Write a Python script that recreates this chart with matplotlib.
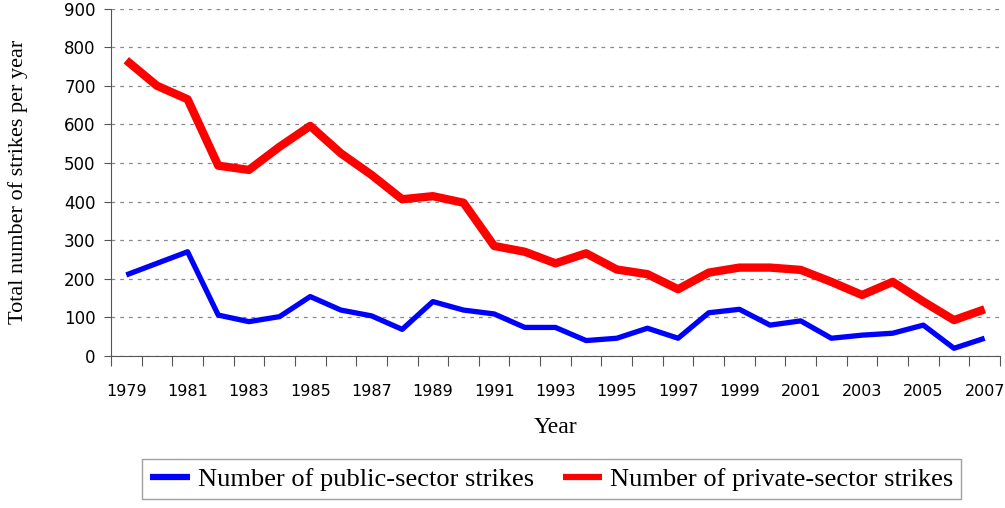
import numpy as np
import matplotlib.pyplot as plt

years = list(range(1979, 2008))
public_strikes = [210, 240, 270, 106, 89, 102, 154, 119, 104, 69, 141, 119, 109, 74, 74,
                  40, 46, 72, 46, 112, 121, 80, 91, 46, 54, 59, 80, 20, 46]
private_strikes = [766, 700, 665, 493, 482, 542, 596, 525, 469, 406, 414, 397, 285, 270, 240,
                   266, 224, 212, 173, 216, 229, 229, 223, 192, 158, 192, 141, 93, 121]

serif = ['Liberation Serif', 'DejaVu Serif']
narrow = ['Liberation Sans Narrow', 'DejaVu Sans']

fig = plt.figure(figsize=(10.05, 5.08), dpi=100)
ax = fig.add_axes([0.1104, 0.2992, 0.8846, 0.684])

x = np.arange(len(years))
ax.plot(x, public_strikes, color='#0000ff', lw=3.8, solid_capstyle='butt',
        label='Number of public-sector strikes', zorder=3)
ax.plot(x, private_strikes, color='#ff0000', lw=6, solid_capstyle='butt',
        label='Number of private-sector strikes', zorder=3)

ax.set_xlim(-0.5, len(years) - 0.5)
ax.set_ylim(0, 900)
ax.set_yticks(range(0, 901, 100))
ax.grid(axis='y', color='#888888', linestyle=(0, (3, 4)), lw=0.9)

# tick marks between categories, labels on every other year
ax.set_xticks(np.arange(-0.5, len(years), 1.0))
ax.set_xticklabels([])
ax.tick_params(axis='x', which='major', length=7, width=0.8, color='#555555', direction='out')
ax.set_xticks(x[::2], minor=True)
ax.set_xticklabels([str(y) for y in years[::2]], minor=True, family=narrow, fontsize=11.5)
ax.tick_params(axis='x', which='minor', length=0, pad=20)
ax.tick_params(axis='y', length=5, width=0.8, color='#555555', pad=6)
for lab in ax.get_yticklabels():
    lab.set_family(narrow)
    lab.set_fontsize(12)

for s in ['top', 'right']:
    ax.spines[s].set_visible(False)
for s in ['left', 'bottom']:
    ax.spines[s].set_color('#555555')
    ax.spines[s].set_linewidth(0.8)

ax.set_xlabel('Year', family=serif, fontsize=17, labelpad=13)
ax.set_ylabel('Total number of strikes per year', family=serif, fontsize=16, labelpad=26)

leg = fig.legend(loc='center', bbox_to_anchor=(0.549, 0.057), ncol=2, frameon=True,
                 fancybox=False, edgecolor='#888888', prop={'family': serif, 'size': 19},
                 handlelength=1.5, handletextpad=0.3, columnspacing=1.1, borderpad=0.3,
                 borderaxespad=0.0)
leg.get_frame().set_linewidth(1.0)
for h in leg.get_lines():
    h.set_linewidth(4.5)

fig.savefig('out.png', dpi=100)
